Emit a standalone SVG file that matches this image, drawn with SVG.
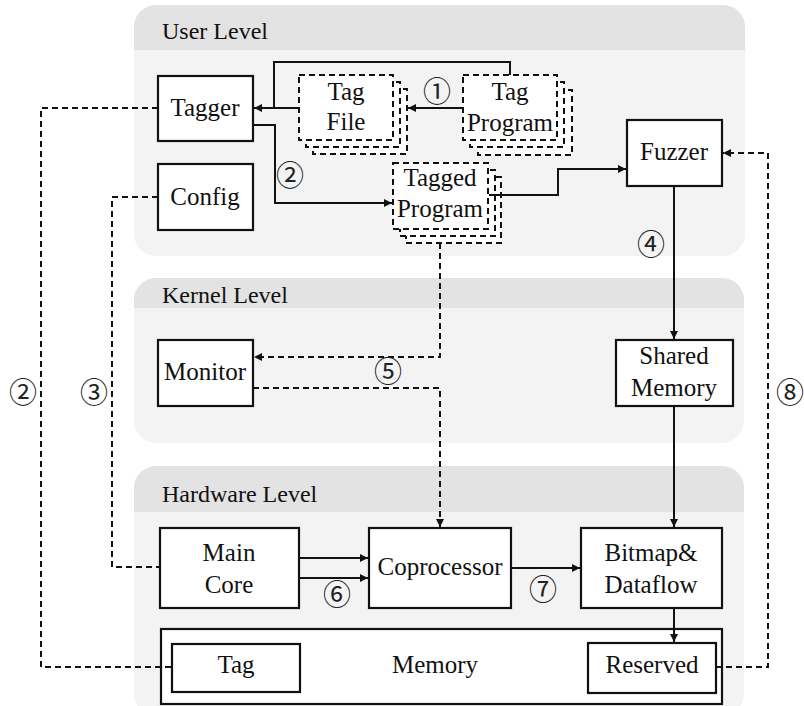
<svg xmlns="http://www.w3.org/2000/svg" width="804" height="706" viewBox="0 0 804 706">
<defs>
<style>
.hdr{fill:#e3e3e3}
.body{fill:#f3f3f3}
.ttl{font-size:24px;fill:#111}
.box{fill:#fff;stroke:#111;stroke-width:2.2}
.dbox{fill:#fff;stroke:#111;stroke-width:2;stroke-dasharray:6 4}
.t{font-size:25px;fill:#111;text-anchor:middle}
.num{font-size:28px;fill:#222;text-anchor:middle;dominant-baseline:central}
.ln{fill:none;stroke:#111;stroke-width:2}
.dl{fill:none;stroke:#111;stroke-width:2;stroke-dasharray:6 4}
</style>
<marker id="a" viewBox="0 0 10 10" refX="10" refY="5" markerWidth="10" markerHeight="8" orient="auto" markerUnits="userSpaceOnUse">
<path d="M0,0 L10,5 L0,10 z" fill="#111"/>
</marker>
<clipPath id="c1"><rect x="134" y="5" width="611" height="251" rx="22"/></clipPath>
<clipPath id="c2"><rect x="134" y="278" width="610" height="165" rx="22"/></clipPath>
<clipPath id="c3"><rect x="134" y="466" width="610" height="250" rx="22"/></clipPath>
</defs>

<g font-family="Liberation Serif, DejaVu Serif, Noto Serif, serif">
<g id="panels">
<g clip-path="url(#c1)"><rect class="body" x="134" y="5" width="611" height="251"/><rect class="hdr" x="134" y="5" width="611" height="45"/></g>
<text class="ttl" x="162" y="39">User Level</text>
<g clip-path="url(#c2)"><rect class="body" x="134" y="278" width="610" height="165"/><rect class="hdr" x="134" y="278" width="610" height="30"/></g>
<text class="ttl" x="162" y="303">Kernel Level</text>
<g clip-path="url(#c3)"><rect class="body" x="134" y="466" width="610" height="250"/><rect class="hdr" x="134" y="466" width="610" height="46"/></g>
<text class="ttl" x="162" y="502">Hardware Level</text>
</g>

<g id="tagger"><rect class="box" x="158" y="76" width="95" height="65"/><text class="t" x="205" y="116">Tagger</text></g>
<g id="config"><rect class="box" x="158" y="164" width="95" height="66"/><text class="t" x="205" y="205">Config</text></g>

<g id="tagfile">
<rect class="dbox" x="313" y="89" width="94" height="65"/>
<rect class="dbox" x="306" y="82" width="94" height="65"/>
<rect class="dbox" x="299" y="75" width="94" height="65"/>
<text class="t" x="346" y="100">Tag</text><text class="t" x="346" y="130">File</text>
</g>

<g id="tagprogram">
<rect class="dbox" x="478" y="90" width="94" height="65"/>
<rect class="dbox" x="470" y="82" width="94" height="65"/>
<rect class="dbox" x="463" y="75" width="94" height="65"/>
<text class="t" x="510" y="100">Tag</text><text class="t" x="510" y="131">Program</text>
</g>

<g id="taggedprogram">
<rect class="dbox" x="406" y="177" width="95" height="66"/>
<rect class="dbox" x="400" y="170" width="95" height="66"/>
<rect class="dbox" x="393" y="163" width="95" height="66"/>
<text class="t" x="440" y="186">Tagged</text><text class="t" x="440" y="217">Program</text>
</g>

<g id="fuzzer"><rect class="box" x="627" y="120" width="95" height="66"/><text class="t" x="674" y="160">Fuzzer</text></g>

<g id="monitor"><rect class="box" x="158" y="340" width="95" height="66"/><text class="t" x="205" y="380">Monitor</text></g>
<g id="sharedmemory"><rect class="box" x="616" y="340" width="117" height="66"/><text class="t" x="674" y="364">Shared</text><text class="t" x="674" y="396">Memory</text></g>

<g id="maincore"><rect class="box" x="160" y="528" width="139" height="80"/><text class="t" x="229" y="561">Main</text><text class="t" x="229" y="593">Core</text></g>
<g id="coprocessor"><rect class="box" x="369" y="528" width="142" height="80"/><text class="t" x="440" y="575">Coprocessor</text></g>
<g id="bitmap"><rect class="box" x="581" y="528" width="141" height="80"/><text class="t" x="651" y="561">Bitmap&amp;</text><text class="t" x="651" y="593">Dataflow</text></g>

<g id="memory">
<rect class="box" x="161" y="629" width="561" height="75"/>
<text class="t" x="435" y="673">Memory</text>
</g>
<g id="tag"><rect class="box" x="172" y="644" width="128" height="48"/><text class="t" x="236" y="673">Tag</text></g>
<g id="reserved"><rect class="box" x="588" y="643" width="128" height="50"/><text class="t" x="652" y="673">Reserved</text></g>
</g>

<g id="connectors">
<polyline class="ln" points="510,75 510,62 274,62 274,108"/>
<line class="ln" x1="299" y1="108" x2="254" y2="108" marker-end="url(#a)"/>
<line class="ln" x1="463" y1="108" x2="408" y2="108" marker-end="url(#a)"/>
<polyline class="ln" points="253,125 275,125 275,203 392,203" marker-end="url(#a)"/>
<polyline class="ln" points="489,195 558,195 558,169 626,169" marker-end="url(#a)"/>
<line class="ln" x1="674" y1="186" x2="674" y2="339" marker-end="url(#a)"/>
<line class="ln" x1="674" y1="406" x2="674" y2="527" marker-end="url(#a)"/>
<line class="ln" x1="674" y1="608" x2="674" y2="642" marker-end="url(#a)"/>
<line class="ln" x1="299" y1="558" x2="368" y2="558" marker-end="url(#a)"/>
<line class="ln" x1="299" y1="578" x2="368" y2="578" marker-end="url(#a)"/>
<line class="ln" x1="511" y1="568" x2="580" y2="568" marker-end="url(#a)"/>
<polyline class="dl" points="440,243 440,357 254,357" marker-end="url(#a)"/>
<polyline class="dl" points="253,388 440,388 440,527" marker-end="url(#a)"/>
<polyline class="dl" points="158,108 41,108 41,667 172,667"/>
<polyline class="dl" points="158,197 112,197 112,567 160,567"/>
<polyline class="dl" points="716,667 768,667 768,153 723,153" marker-end="url(#a)"/>
</g>

<g id="labels" font-family="Noto Sans CJK JP, DejaVu Sans, sans-serif">
<text class="num" x="437" y="90">①</text>
<text class="num" x="290" y="174">②</text>
<text class="num" x="651" y="243">④</text>
<text class="num" x="388" y="370">⑤</text>
<text class="num" x="23" y="391">②</text>
<text class="num" x="94" y="391">③</text>
<text class="num" x="790" y="391">⑧</text>
<text class="num" x="337" y="593">⑥</text>
<text class="num" x="543" y="588">⑦</text>
</g>
</svg>
